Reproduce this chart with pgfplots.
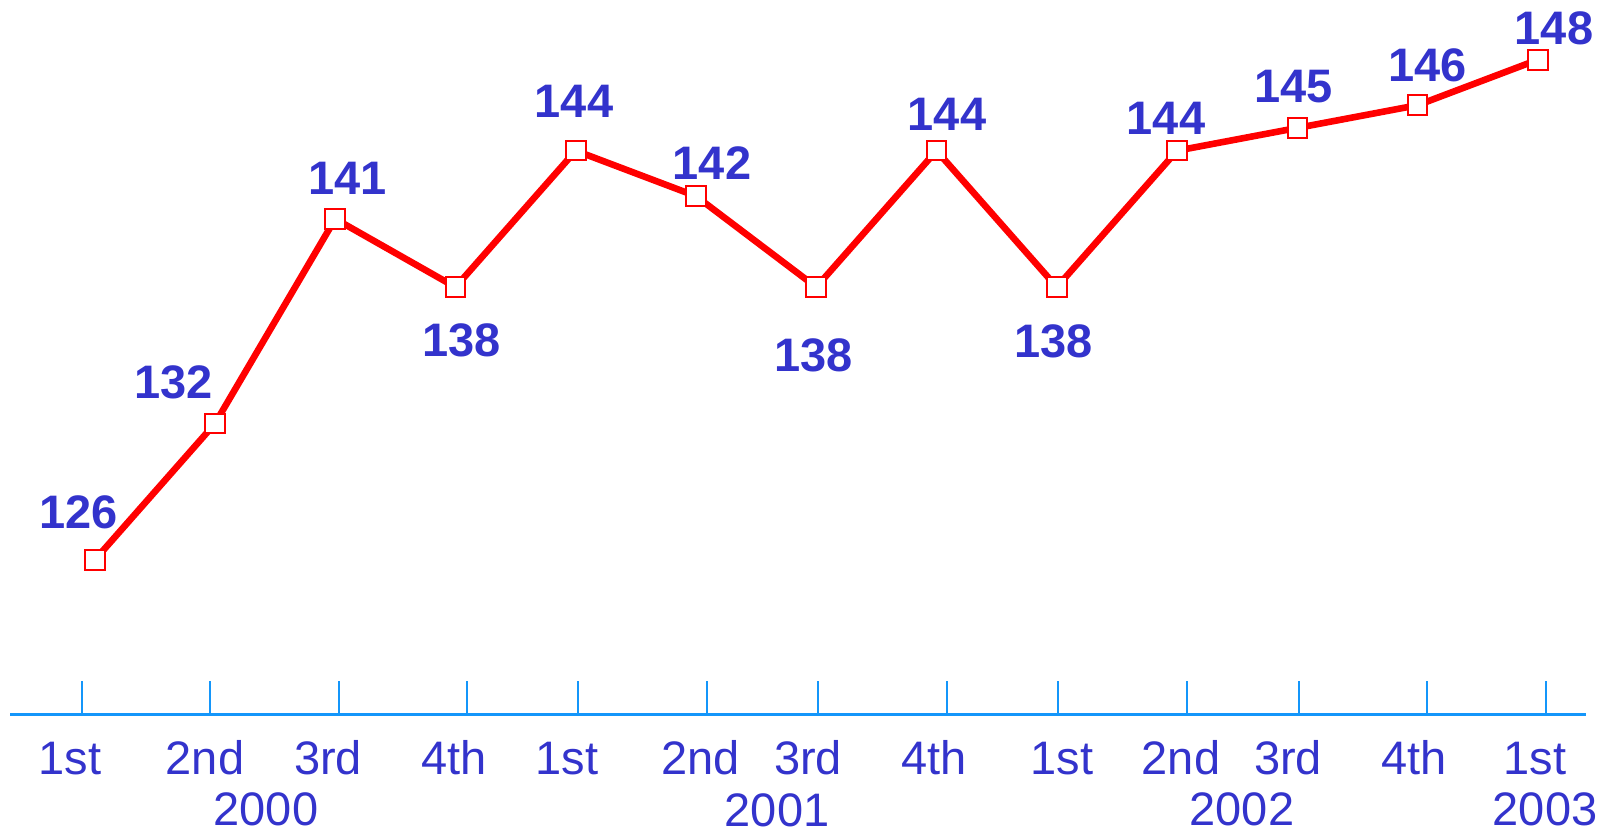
\documentclass[border=0pt]{standalone}
\usepackage{pgfplots}
\pgfplotsset{compat=1.18}
\usepackage{fontspec}
\setmainfont{Liberation Sans}
\definecolor{lblue}{RGB}{51,51,204}
\definecolor{axblue}{RGB}{20,150,250}
\definecolor{lred}{RGB}{255,0,0}
\begin{document}
\begin{tikzpicture}
\begin{axis}[
  scale only axis,
  width=787.85pt, height=357.35pt,
  xmin=-0.7018, xmax=12.4006,
  ymin=119.197, ymax=150.626,
  clip=false,
  axis y line=none,
  axis x line*=bottom,
  x axis line style={draw=axblue, line width=1.4pt, -},
  xtick={-0.106,0.959,2.032,3.096,4.019,5.092,6.015,7.087,8.010,9.083,10.014,11.079,12.068},
  xticklabels={},
  tick align=inside,
  major tick length=17pt,
  x tick style={draw=axblue, line width=1pt},
  extra x ticks={-0.205,0.917,1.940,2.988,3.927,5.041,5.931,6.979,8.044,9.033,9.923,10.971,11.977},
  extra x tick labels={1st,2nd,3rd,4th,1st,2nd,3rd,4th,1st,2nd,3rd,4th,1st},
  extra x tick style={major tick length=0pt, x tick style={draw=none},
    xticklabel style={anchor=base, yshift=-29.9pt, inner sep=0pt}},
  xticklabel style={font=\fontsize{23.5}{27}\selectfont, text=lblue},
]
\addplot[color=lred, line width=3.3pt, mark=square*, mark size=4.9pt,
  mark options={fill=white, draw=lred, line width=1pt}]
  coordinates {(0,126) (1,132) (2,141) (3,138) (4,144) (5,142) (6,138) (7,144) (8,138) (9,144) (10,145) (11,146) (12,148)};
\begin{scope}[every node/.style={font=\bfseries\fontsize{23.5}{27}\selectfont, text=lblue, anchor=base, inner sep=0pt}]
\node at (axis cs:-0.133,127.376) {126};
\node at (axis cs:0.658,133.111) {132};
\node at (axis cs:2.102,142.082) {141};
\node at (axis cs:3.052,134.971) {138};
\node at (axis cs:3.986,145.450) {144};
\node at (axis cs:5.133,142.711) {142};
\node at (axis cs:5.980,134.281) {138};
\node at (axis cs:7.087,144.909) {144};
\node at (axis cs:7.975,134.914) {138};
\node at (axis cs:8.908,144.733) {144};
\node at (axis cs:9.971,146.110) {145};
\node at (axis cs:11.084,147.064) {146};
\node at (axis cs:12.134,148.678) {148};
\end{scope}
\begin{scope}[every node/.style={font=\fontsize{23.5}{27}\selectfont, text=lblue, anchor=base, inner sep=0pt}]
\node at (axis cs:1.424,114.32) {2000};
\node at (axis cs:5.674,114.28) {2001};
\node at (axis cs:9.540,114.32) {2002};
\node at (axis cs:12.060,114.32) {2003};
\end{scope}
\end{axis}
\pgfresetboundingbox
\path ([shift={(-5.15pt,-61.65pt)}]current axis.south west) rectangle ([shift={(14pt,0pt)}]current axis.north east);
\end{tikzpicture}
\end{document}
